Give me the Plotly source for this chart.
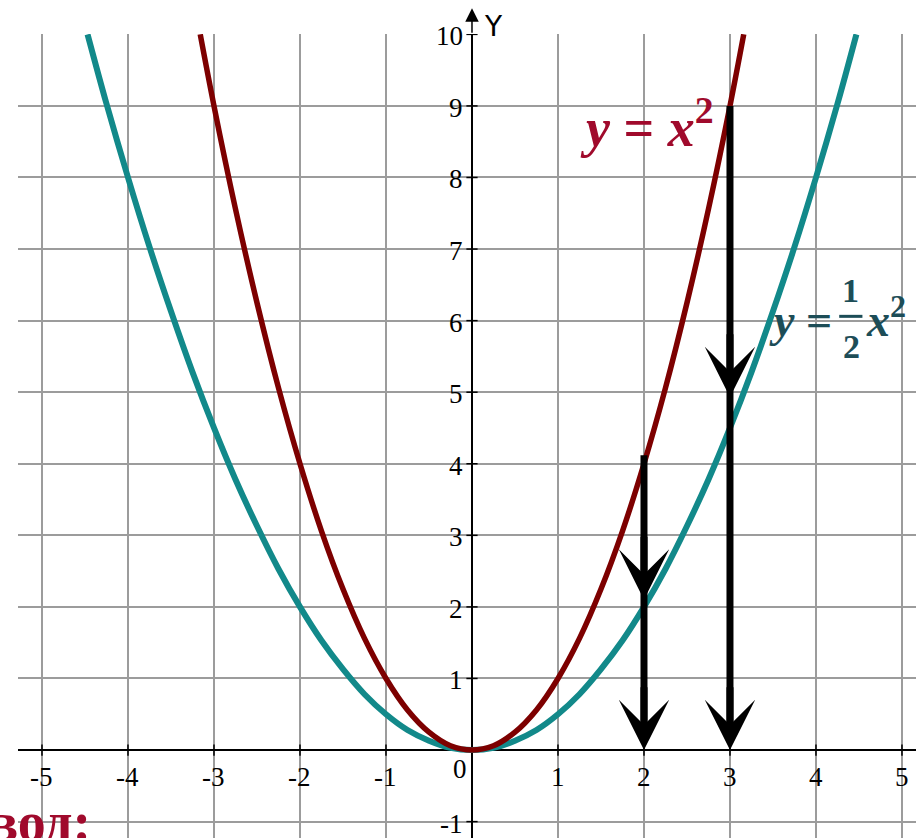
import plotly.graph_objects as go

# ---- data ----
x_red = [-3.16, -3.0, -2.75, -2.5, -2.25, -2.0, -1.75, -1.5, -1.25, -1.0, -0.75, -0.5, -0.25, 0.0,
         0.25, 0.5, 0.75, 1.0, 1.25, 1.5, 1.75, 2.0, 2.25, 2.5, 2.75, 3.0, 3.16]
y_red = [10.0, 9.0, 7.56, 6.25, 5.06, 4.0, 3.06, 2.25, 1.56, 1.0, 0.56, 0.25, 0.06, 0.0,
         0.06, 0.25, 0.56, 1.0, 1.56, 2.25, 3.06, 4.0, 5.06, 6.25, 7.56, 9.0, 10.0]

x_teal = [-4.47, -4.25, -4.0, -3.75, -3.5, -3.25, -3.0, -2.75, -2.5, -2.25, -2.0, -1.75, -1.5, -1.25,
          -1.0, -0.75, -0.5, -0.25, 0.0, 0.25, 0.5, 0.75, 1.0, 1.25, 1.5, 1.75, 2.0, 2.25, 2.5,
          2.75, 3.0, 3.25, 3.5, 3.75, 4.0, 4.25, 4.47]
y_teal = [10.0, 9.03, 8.0, 7.03, 6.13, 5.28, 4.5, 3.78, 3.13, 2.53, 2.0, 1.53, 1.13, 0.78,
          0.5, 0.28, 0.13, 0.03, 0.0, 0.03, 0.13, 0.28, 0.5, 0.78, 1.13, 1.53, 2.0, 2.53, 3.13,
          3.78, 4.5, 5.28, 6.13, 7.03, 8.0, 9.03, 10.0]

x_ticks = [-5, -4, -3, -2, -1, 1, 2, 3, 4, 5]
x_tick_labels = ["-5", "-4", "-3", "-2", "-1", "1", "2", "3", "4", "5"]
y_ticks = [-1, 1, 2, 3, 4, 5, 6, 7, 8, 9, 10]
y_tick_labels = ["-1", "1", "2", "3", "4", "5", "6", "7", "8", "9", "10"]

# vertical arrows: x, top y, middle arrow tip y
arrow_x = [2, 3]
arrow_top = [4.12, 9.0]
arrow_mid = [2.1, 4.93]

RED = "#7d0000"
TEAL = "#12898a"
LABEL_RED = "#a00a2c"
LABEL_TEAL = "#1d4d57"

fig = go.Figure()

fig.add_trace(go.Scatter(x=x_teal, y=y_teal, mode="lines", line=dict(color=TEAL, width=6, shape="spline"),
                         hoverinfo="skip", showlegend=False))
fig.add_trace(go.Scatter(x=x_red, y=y_red, mode="lines", line=dict(color=RED, width=5.5, shape="spline"),
                         hoverinfo="skip", showlegend=False))

# tick marks on the axes
fig.add_trace(go.Scatter(x=x_ticks, y=[0] * len(x_ticks), mode="markers",
                         marker=dict(symbol="line-ns", size=8, line=dict(color="black", width=1.5)),
                         hoverinfo="skip", showlegend=False))
fig.add_trace(go.Scatter(x=[0] * len(y_ticks), y=y_ticks, mode="markers",
                         marker=dict(symbol="line-ew", size=8, line=dict(color="black", width=1.5)),
                         hoverinfo="skip", showlegend=False))

# shafts of the vertical arrows
for xa, yt in zip(arrow_x, arrow_top):
    fig.add_trace(go.Scatter(x=[xa, xa], y=[yt, 0.3], mode="lines", line=dict(color="black", width=7),
                             hoverinfo="skip", showlegend=False))

ann = []
tick_font = dict(family="Liberation Serif", size=27, color="black")
for xv, t in zip(x_ticks, x_tick_labels):
    ann.append(dict(x=xv, y=0, xref="x", yref="y", text=t, showarrow=False, font=tick_font,
                    xanchor="center", yanchor="middle", yshift=-27))
for yv, t in zip(y_ticks, y_tick_labels):
    ann.append(dict(x=0, y=yv, xref="x", yref="y", text=t, showarrow=False, font=tick_font,
                    xanchor="right", yanchor="middle", xshift=-7, yshift=-2))
ann.append(dict(x=0, y=0, xref="x", yref="y", text="0", showarrow=False, font=tick_font,
                xanchor="center", yanchor="middle", xshift=-12, yshift=-19))

# Y axis arrow and label
ann.append(dict(x=0, y=1.032, xref="x", yref="paper", text="", showarrow=True, ax=0, ay=26,
                arrowhead=2, arrowwidth=1.5, arrowsize=1.8, arrowcolor="black", standoff=0))
ann.append(dict(x=0, y=1.009, xref="x", yref="paper", text="Y", showarrow=False,
                font=dict(family="DejaVu Sans", size=28, color="black"),
                xanchor="center", yanchor="middle", xshift=22))

# arrowheads of the vertical black arrows
for xa, ym in zip(arrow_x, arrow_mid):
    for tip in (ym, 0):
        ann.append(dict(x=xa, y=tip, ax=xa, ay=tip + 0.9, xref="x", yref="y", axref="x", ayref="y", text="",
                        showarrow=True, arrowhead=3, arrowwidth=7, arrowsize=1.2, arrowcolor="black",
                        standoff=0, startstandoff=0))

# curve labels
ann.append(dict(x=2.04, y=8.75, xref="x", yref="y", text="<b><i>y</i> = <i>x</i><sup>2</sup></b>",
                showarrow=False, font=dict(family="Liberation Serif", size=54, color=LABEL_RED),
                xanchor="center", yanchor="middle"))
lab_font = dict(family="Liberation Serif", size=46, color=LABEL_TEAL)
ann.append(dict(x=3.82, y=6.0, xref="x", yref="y", text="<b><i>y</i> =</b>", showarrow=False,
                font=lab_font, xanchor="center", yanchor="middle"))
ann.append(dict(x=4.4, y=6.42, xref="x", yref="y", text="<b>1</b>", showarrow=False,
                font=dict(family="Liberation Serif", size=34, color=LABEL_TEAL), xanchor="center", yanchor="middle"))
ann.append(dict(x=4.41, y=5.64, xref="x", yref="y", text="<b>2</b>", showarrow=False,
                font=dict(family="Liberation Serif", size=34, color=LABEL_TEAL), xanchor="center", yanchor="middle"))
ann.append(dict(x=4.56, y=6.05, xref="x", yref="y", text="<b><i>x</i><sup>2</sup></b>", showarrow=False,
                font=lab_font, xanchor="left", yanchor="middle"))

# bottom-left cut-off text
ann.append(dict(x=-0.036, y=0.02, xref="paper", yref="paper", text="<b>вод:</b>", showarrow=False,
                font=dict(family="Liberation Serif", size=56, color=LABEL_RED),
                xanchor="left", yanchor="middle"))

shapes = [dict(type="line", xref="x", yref="y", x0=4.27, x1=4.54, y0=6.06, y1=6.06,
               line=dict(color=LABEL_TEAL, width=3))]

fig.update_layout(
    width=916, height=838,
    margin=dict(l=18, r=0, t=34, b=0),
    paper_bgcolor="white", plot_bgcolor="white",
    annotations=ann, shapes=shapes,
    xaxis=dict(range=[-5.279, 5.163], dtick=1, tick0=0, showgrid=True, gridcolor="#9c9c9c", gridwidth=2,
               zeroline=True, zerolinecolor="black", zerolinewidth=2, showticklabels=False, ticks="",
               fixedrange=True),
    yaxis=dict(range=[-1.229, 10.005], dtick=1, tick0=0, showgrid=True, gridcolor="#9c9c9c", gridwidth=2,
               zeroline=True, zerolinecolor="black", zerolinewidth=2, showticklabels=False, ticks="",
               fixedrange=True),
)

fig.write_html("out.html", config={"displayModeBar": False},
               post_script="document.body.style.margin='0px';document.body.style.overflow='hidden';")
